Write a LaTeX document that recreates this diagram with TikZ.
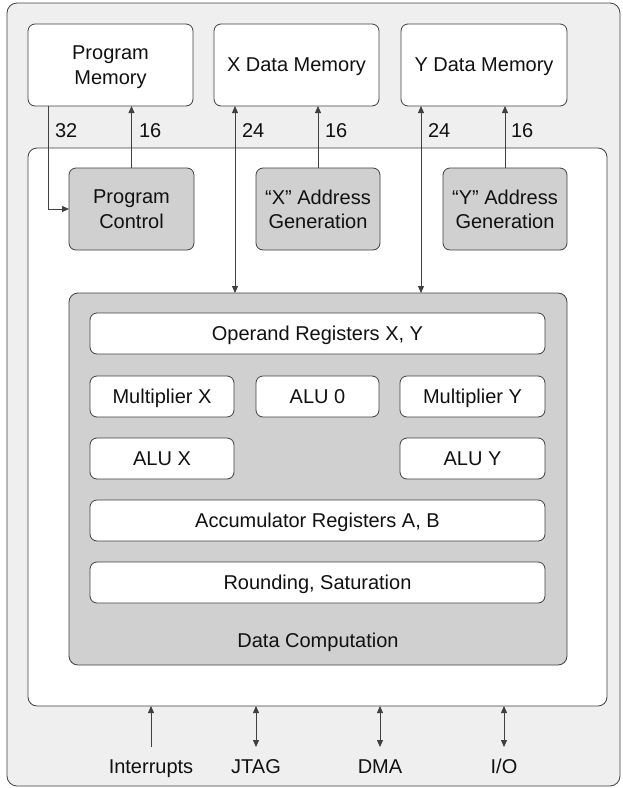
\documentclass[tikz,border=0pt]{standalone}
\usepackage{fontspec}
\setmainfont{Liberation Sans}
\usetikzlibrary{arrows.meta}
\definecolor{bggray}{HTML}{EFEFEF}
\definecolor{boxgray}{HTML}{D0D0D0}
\definecolor{linec}{HTML}{404040}
\definecolor{textc}{HTML}{111111}
\begin{document}
\begin{tikzpicture}[x=1pt,y=-1pt,
  every node/.style={font=\fontsize{20}{24.5}\selectfont, text=textc, inner sep=0pt, outer sep=0pt},
  blk/.style={draw=linec, line width=0.8pt, rounded corners=7pt, align=center, anchor=center, text depth=0pt},
  wblk/.style={blk, fill=white},
  gblk/.style={blk, fill=boxgray},
  conn/.style={draw=linec, line width=0.8pt},
  arr/.style={conn, -{Triangle[length=7pt,width=6pt]}},
  darr/.style={conn, {Triangle[length=7pt,width=6pt]}-{Triangle[length=7pt,width=6pt]}},
  lbl/.style={anchor=base west},
  blbl/.style={anchor=base}
]
\useasboundingbox (0,0) rectangle (622,788);
% outer frame
\node[blk, fill=bggray, rounded corners=10pt, minimum width=613pt, minimum height=783pt] (frame) at (313.5,394.5) {};
% memories
\node[wblk, minimum width=165pt, minimum height=82pt] (pm) at (110.5,65) {Program\\Memory};
\node[wblk, minimum width=165pt, minimum height=82pt] (xm) at (296.5,65) {X Data Memory};
\node[wblk, minimum width=166pt, minimum height=82pt] (ym) at (484,65) {Y Data Memory};
% chip
\node[wblk, rounded corners=9pt, minimum width=579pt, minimum height=558pt] (chip) at (317.5,427) {};
% control blocks
\node[gblk, minimum width=125pt, minimum height=82pt] (pc) at (131.5,209) {Program\\Control};
\node[gblk, minimum width=124pt, minimum height=82pt] (xa) at (318,209) {“X” Address\\Generation};
\node[gblk, minimum width=124pt, minimum height=82pt] (ya) at (505,209) {“Y” Address\\Generation};
% data computation
\node[gblk, rounded corners=9pt, minimum width=498pt, minimum height=372pt] (dc) at (318,479) {};
\node[blbl] (dclbl) at (318,647) {Data Computation};
\node[wblk, minimum width=455pt, minimum height=41pt] (opr) at (317.5,333.5) {Operand Registers X, Y};
\node[wblk, minimum width=144pt, minimum height=41pt] (mx) at (162,396.5) {Multiplier X};
\node[wblk, minimum width=123pt, minimum height=41pt] (alu0) at (317.5,396.5) {ALU 0};
\node[wblk, minimum width=145pt, minimum height=41pt] (my) at (472.5,396.5) {Multiplier Y};
\node[wblk, minimum width=144pt, minimum height=41pt] (alux) at (162,458.5) {ALU X};
\node[wblk, minimum width=145pt, minimum height=41pt] (aluy) at (472.5,458.5) {ALU Y};
\node[wblk, minimum width=455pt, minimum height=41pt] (acc) at (317.5,520.5) {Accumulator Registers A, B};
\node[wblk, minimum width=455pt, minimum height=41pt] (rnd) at (317.5,582.5) {Rounding, Saturation};
% memory connections
\coordinate (c32) at (48,0);
\coordinate (cx24) at (235,0);
\coordinate (cy24) at (421,0);
\draw[arr] (pm.south -| c32) |- (pc.west);
\draw[arr] (pc.north) -- (pc.north |- pm.south);
\draw[arr] (xa.north) -- (xa.north |- xm.south);
\draw[arr] (ya.north) -- (ya.north |- ym.south);
\draw[darr] (xm.south -| cx24) -- (dc.north -| cx24);
\draw[darr] (ym.south -| cy24) -- (dc.north -| cy24);
\node[lbl] (l32) at (55,137) {32};
\node[lbl] (l16a) at (139,137) {16};
\node[lbl] (l24a) at (242,137) {24};
\node[lbl] (l16b) at (325,137) {16};
\node[lbl] (l24b) at (428,137) {24};
\node[lbl] (l16c) at (511,137) {16};
% bottom
\node[blbl] (intr) at (151,773) {Interrupts};
\node[blbl] (jtag) at (256,773) {JTAG};
\node[blbl] (dma) at (380,773) {DMA};
\node[blbl] (io) at (504,773) {I/O};
\coordinate (bi) at (151,747);
\coordinate (bj) at (256,747);
\coordinate (bd) at (380,747);
\coordinate (bo) at (504,747);
\draw[arr] (bi) -- (bi |- chip.south);
\draw[darr] (bj) -- (bj |- chip.south);
\draw[darr] (bd) -- (bd |- chip.south);
\draw[darr] (bo) -- (bo |- chip.south);
\end{tikzpicture}
\end{document}
